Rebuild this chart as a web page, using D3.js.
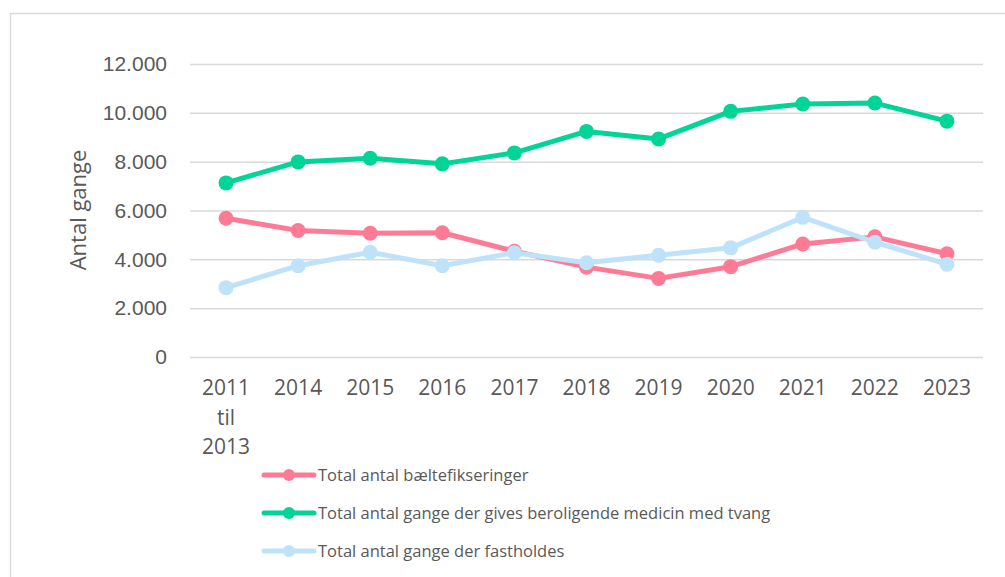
<!DOCTYPE html>
<html>
<head>
<meta charset="utf-8">
<script src="https://cdn.jsdelivr.net/npm/d3@7"></script>
<style>
  body { margin: 0; background: #fff; }
  svg { display: block; font-family: "Open Sans", "Noto Sans", sans-serif; }
</style>
</head>
<body>
<svg width="1005" height="577"></svg>
<script>

// DATA

var years = ["2011 til 2013", "2014", "2015", "2016", "2017", "2018", "2019", "2020", "2021", "2022", "2023"];

var baelte = [5680, 5180, 5070, 5090, 4330, 3680, 3220, 3700, 4630, 4920, 4230];
var medicin = [7130, 7990, 8140, 7910, 8360, 9240, 8930, 10060, 10360, 10400, 9660];
var fasthold = [2840, 3740, 4290, 3740, 4270, 3860, 4170, 4470, 5720, 4700, 3800];

var seriesNames = [
    "Total antal bæltefikseringer",
    "Total antal gange der gives beroligende medicin med tvang",
    "Total antal gange der fastholdes"
];
var seriesColors = ["#ff7b95", "#00d597", "#bfe2fb"];
var yTicks = [0, 2000, 4000, 6000, 8000, 10000, 12000];

var series = [baelte, medicin, fasthold];


var svg = d3.select("svg"),
    width = +svg.attr("width"),
    height = +svg.attr("height");

// chart frame
svg.append("rect")
    .attr("x", 10.5).attr("y", 13.5)
    .attr("width", 1000).attr("height", 600)
    .attr("fill", "none")
    .attr("stroke", "#d9d9d9")
    .attr("stroke-width", 1.5);

var x = d3.scaleBand()
    .domain(years)
    .range([190, 983]);

var y = d3.scaleLinear()
    .domain([0, 12000])
    .range([357, 64]);

var fmt = function (d) { return d3.format(",")(d).replace(/,/g, "."); };

// gridlines
var yAxis = d3.axisLeft(y)
    .tickValues(yTicks)
    .tickSize(-(983 - 190))
    .tickPadding(23)
    .tickFormat(fmt);

var gY = svg.append("g")
    .attr("transform", "translate(190,0)")
    .call(yAxis);

gY.select(".domain").remove();
gY.selectAll(".tick line")
    .attr("stroke", "#d9d9d9")
    .attr("stroke-width", 1.5);
gY.selectAll(".tick text")
    .attr("fill", "#595959")
    .style("font-size", "21px");

// x labels, split on spaces for the first one
var gX = svg.append("g");
gX.selectAll("text")
    .data(years)
    .enter().append("text")
    .attr("x", function (d) { return x(d) + x.bandwidth() / 2; })
    .attr("y", 395)
    .attr("text-anchor", "middle")
    .attr("fill", "#595959")
    .style("font-size", "21px")
    .each(function (d) {
        var t = d3.select(this);
        d.split(" ").forEach(function (w, i) {
            t.append("tspan")
                .attr("x", x(d) + x.bandwidth() / 2)
                .attr("dy", i === 0 ? 0 : 29.5)
                .text(w);
        });
    });

// y title
svg.append("text")
    .attr("transform", "translate(86,210) rotate(-90)")
    .attr("text-anchor", "middle")
    .attr("fill", "#595959")
    .style("font-size", "22px")
    .text("Antal gange");

var line = d3.line()
    .x(function (d, i) { return x(years[i]) + x.bandwidth() / 2; })
    .y(function (d) { return y(d); });

var plot = svg.append("g");

series.forEach(function (s, k) {
    plot.append("path")
        .datum(s)
        .attr("d", line)
        .attr("fill", "none")
        .attr("stroke", seriesColors[k])
        .attr("stroke-width", 5)
        .attr("stroke-linejoin", "round");

    plot.selectAll(".dot" + k)
        .data(s)
        .enter().append("circle")
        .attr("class", "dot" + k)
        .attr("r", 7.5)
        .attr("cx", function (d, i) { return x(years[i]) + x.bandwidth() / 2; })
        .attr("cy", function (d) { return y(d); })
        .attr("fill", seriesColors[k]);
});

// legend
var legend = svg.append("g");
seriesNames.forEach(function (name, k) {
    var ly = 475 + k * 38;
    legend.append("line")
        .attr("x1", 264).attr("x2", 314)
        .attr("y1", ly).attr("y2", ly)
        .attr("stroke", seriesColors[k])
        .attr("stroke-width", 5)
        .attr("stroke-linecap", "round");
    legend.append("circle")
        .attr("cx", 289).attr("cy", ly).attr("r", 6)
        .attr("fill", seriesColors[k]);
    legend.append("text")
        .attr("x", 318).attr("y", ly + 6)
        .attr("fill", "#595959")
        .style("font-size", "16.5px")
        .text(name);
});

</script>
</body>
</html>
